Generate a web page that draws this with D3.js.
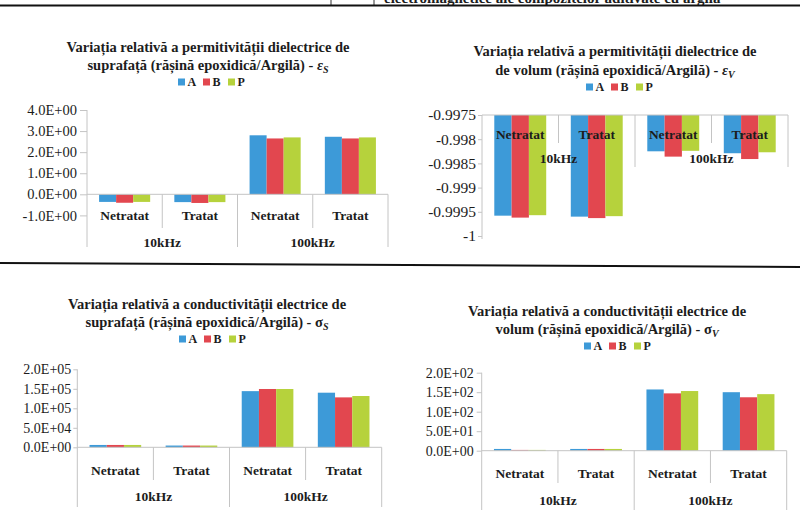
<!DOCTYPE html>
<html>
<head>
<meta charset="utf-8">
<script src="https://cdn.jsdelivr.net/npm/d3@7"></script>
<style>
  body { margin: 0; background: #fff; }
  svg { display: block; }
  svg text { font-family: "Liberation Serif", "DejaVu Serif", serif; }
</style>
</head>
<body>
<svg id="page" width="800" height="514"></svg>
<script>
// ---- data ----
const treatments = ["Netratat", "Tratat", "Netratat", "Tratat"];
const frequencies = ["10kHz", "100kHz"];
const seriesNames = ["A", "B", "P"];
const seriesColors = ["#3d9ad8", "#e2474f", "#b6d23c"];

// relative variation of surface permittivity, ε_S
const epsS_A = [-0.36, -0.37, 2.80, 2.73];
const epsS_B = [-0.40, -0.41, 2.65, 2.65];
const epsS_P = [-0.36, -0.37, 2.70, 2.70];
const epsS_ticks = [-1, 0, 1, 2, 3, 4];

// relative variation of volume permittivity, ε_V
const epsV_A = [-0.99958, -0.99960, -0.99825, -0.99829];
const epsV_B = [-0.99962, -0.99963, -0.99836, -0.99841];
const epsV_P = [-0.99957, -0.99959, -0.99824, -0.99827];
const epsV_ticks = [-1, -0.9995, -0.999, -0.9985, -0.998, -0.9975];

// relative variation of surface conductivity, σ_S
const sigS_A = [6000, 4500, 144000, 140000];
const sigS_B = [6000, 4500, 149500, 128000];
const sigS_P = [6000, 4500, 149500, 131500];
const sigS_ticks = [0, 50000, 100000, 150000, 200000];

// relative variation of volume conductivity, σ_V
const sigV_A = [4.5, 4.5, 157, 150];
const sigV_B = [2.0, 4.5, 147, 137];
const sigV_P = [2.0, 4.5, 153, 145];
const sigV_ticks = [0, 50, 100, 150, 200];

const titleLine1Eps = "Variația relativă a permitivității dielectrice de";
const titleLine1Sig = "Variația relativă a conductivității electrice de";

// Excel-style scientific label: 1.5E+05
function sci(v) {
  const [m, e] = v.toExponential(1).split("e");
  return m + "E" + e[0] + e.slice(1).padStart(2, "0");
}

const svg = d3.select("#page");
const AXIS = "#c4c4c4";
const INK = "#1c1c1c";

// ---- page header remnant and separator ----
svg.append("text")
  .attr("x", 384).attr("y", 3)
  .style("font-weight", "bold").style("font-size", "15px")
  .attr("fill", INK)
  .text("electromagnetice ale compozitelor aditivate cu argilă");
[331, 374].forEach(x => svg.append("line")
  .attr("x1", x).attr("x2", x).attr("y1", 0).attr("y2", 5)
  .attr("stroke", "#333").attr("stroke-width", 1));
svg.append("line")
  .attr("x1", 0).attr("x2", 800).attr("y1", 5.5).attr("y2", 5.5)
  .attr("stroke", "#111").attr("stroke-width", 2);
svg.append("line")
  .attr("x1", 0).attr("x2", 800).attr("y1", 263).attr("y2", 267)
  .attr("stroke", "#111").attr("stroke-width", 2);

// ---- chart definitions ----
const charts = [
  {
    values: [epsS_A, epsS_B, epsS_P], ticks: epsS_ticks, fmt: sci,
    domain: [-1, 4], yRange: [215.4, 110], base: 0,
    xl: 87, xr: 388, tickSize: 7, tickPad: 3, tickFont: 14.5,
    catY: 215, grpY: 242, shortBot: 228, longBot: 247,
    title: [titleLine1Eps, "suprafață (rășină epoxidică/Argilă) - "], sym: "ε", sub: "S", symItalic: true,
    titleX: 208, titleY: [47, 65], legX: 214, legY: 82
  },
  {
    values: [epsV_A, epsV_B, epsV_P], ticks: epsV_ticks, fmt: d => String(d),
    domain: [-1, -0.9975], yRange: [236, 115], base: -0.9975,
    xl: 482, xr: 788, tickSize: 4, tickPad: 2, tickFont: 15.5,
    catY: 134, grpY: 158, shortBot: 143, longBot: 167, axisBot: 239,
    title: [titleLine1Eps, "de volum (rășină epoxidică/Argilă) - "], sym: "ε", sub: "V", symItalic: true,
    titleX: 615, titleY: [51, 70], legX: 622, legY: 87
  },
  {
    values: [sigS_A, sigS_B, sigS_P], ticks: sigS_ticks, fmt: sci,
    domain: [0, 200000], yRange: [447.3, 369.3], base: 0,
    xl: 77.3, xr: 381.7, tickSize: 4, tickPad: 2, tickFont: 14,
    catY: 470, grpY: 496, shortBot: 480, longBot: 507,
    title: [titleLine1Sig, "suprafață (rășină epoxidică/Argilă) - "], sym: "σ", sub: "S", symItalic: false,
    titleX: 207, titleY: [304, 322], legX: 215, legY: 339
  },
  {
    values: [sigV_A, sigV_B, sigV_P], ticks: sigV_ticks, fmt: sci,
    domain: [0, 200], yRange: [450.7, 372.7], base: 0,
    xl: 481.7, xr: 786.7, tickSize: 5, tickPad: 3, tickFont: 14,
    catY: 473, grpY: 500, shortBot: 483, longBot: 510,
    title: [titleLine1Sig, "volum (rășină epoxidică/Argilă) - "], sym: "σ", sub: "V", symItalic: false,
    titleX: 607, titleY: [311, 329], legX: 620, legY: 346
  }
];

charts.forEach(drawChart);

function drawChart(c) {
  const g = svg.append("g");

  const x0 = d3.scaleBand().domain(d3.range(treatments.length))
    .range([c.xl, c.xr]).paddingInner(0).paddingOuter(0);
  const x1 = d3.scaleBand().domain(seriesNames)
    .range([0, x0.bandwidth()]).paddingInner(0).paddingOuter(0.71);
  const y = d3.scaleLinear().domain(c.domain).range(c.yRange);
  const color = d3.scaleOrdinal().domain(seriesNames).range(seriesColors);

  // bars
  const rows = [];
  treatments.forEach((t, i) => seriesNames.forEach((s, k) => rows.push({ i, s, v: c.values[k][i] })));
  const yb = y(c.base);
  g.append("g").selectAll("rect").data(rows).join("rect")
    .attr("x", d => x0(d.i) + x1(d.s))
    .attr("width", x1.bandwidth())
    .attr("y", d => Math.min(yb, y(d.v)))
    .attr("height", d => Math.abs(y(d.v) - yb))
    .attr("fill", d => color(d.s));

  // value axis
  const ax = g.append("g").attr("transform", `translate(${c.xl},0)`)
    .call(d3.axisLeft(y).tickValues(c.ticks).tickFormat(c.fmt)
      .tickSize(c.tickSize).tickSizeOuter(0).tickPadding(c.tickPad));
  ax.attr("font-family", null).attr("font-size", null);
  ax.select(".domain").remove();
  ax.selectAll(".tick line").attr("stroke", AXIS);
  ax.selectAll(".tick text")
    .style("font-size", c.tickFont + "px").attr("fill", INK);
  const yTop = Math.min(...c.yRange);
  const axisBottom = c.axisBot !== undefined ? c.axisBot : c.longBot;
  g.append("line").attr("x1", c.xl).attr("x2", c.xl)
    .attr("y1", yTop).attr("y2", axisBottom).attr("stroke", AXIS);

  // category axis with two-level labels
  g.append("line").attr("x1", c.xl).attr("x2", c.xr)
    .attr("y1", yb).attr("y2", yb).attr("stroke", AXIS);
  d3.range(1, treatments.length + 1).forEach(i => {
    const x = c.xl + i * x0.bandwidth();
    const long = (i % 2 === 0);
    g.append("line").attr("x1", x).attr("x2", x)
      .attr("y1", yb).attr("y2", long ? c.longBot : c.shortBot)
      .attr("stroke", AXIS);
  });
  g.append("g").selectAll("text").data(treatments).join("text")
    .attr("x", (d, i) => x0(i) + x0.bandwidth() / 2)
    .attr("y", c.catY).attr("dy", "0.35em")
    .attr("text-anchor", "middle")
    .style("font-weight", "bold").style("font-size", "13.5px")
    .attr("fill", INK)
    .text(d => d);
  g.append("g").selectAll("text").data(frequencies).join("text")
    .attr("x", (d, j) => x0(2 * j) + x0.bandwidth())
    .attr("y", c.grpY).attr("dy", "0.35em")
    .attr("text-anchor", "middle")
    .style("font-weight", "bold").style("font-size", "13.5px")
    .attr("fill", INK)
    .text(d => d);

  // title
  g.append("text").attr("x", c.titleX).attr("y", c.titleY[0]).attr("dy", "0.35em")
    .attr("text-anchor", "middle")
    .style("font-weight", "bold").style("font-size", "14.5px").attr("fill", INK)
    .text(c.title[0]);
  const t2 = g.append("text").attr("x", c.titleX).attr("y", c.titleY[1]).attr("dy", "0.35em")
    .attr("text-anchor", "middle")
    .style("font-weight", "bold").style("font-size", "14.5px").attr("fill", INK);
  t2.append("tspan").text(c.title[1]);
  t2.append("tspan").style("font-style", c.symItalic ? "italic" : "normal").text(c.sym);
  t2.append("tspan").style("font-style", "italic").style("font-size", "10px").attr("dy", 3).text(c.sub);

  // legend
  const lg = g.append("g").attr("transform", `translate(${c.legX - 36},${c.legY})`);
  seriesNames.forEach((s, k) => {
    lg.append("rect").attr("x", k * 25).attr("y", -3.5).attr("width", 7).attr("height", 7)
      .attr("fill", color(s));
    lg.append("text").attr("x", k * 25 + 9.5).attr("y", 0).attr("dy", "0.35em")
      .style("font-weight", "bold").style("font-size", "12px")
      .attr("fill", INK).text(s);
  });
}
</script>
</body>
</html>
